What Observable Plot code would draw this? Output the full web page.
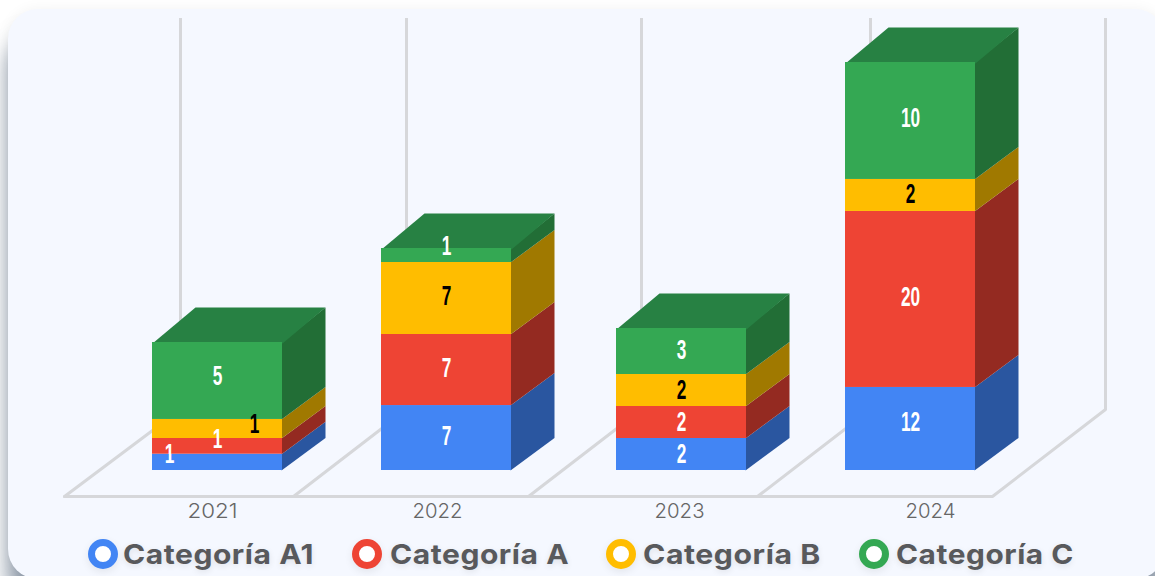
<!DOCTYPE html>
<html lang="es">
<head>
<meta charset="utf-8">
<script src="https://cdn.jsdelivr.net/npm/d3@7"></script>
<script src="https://cdn.jsdelivr.net/npm/@observablehq/plot@0.6"></script>
<style>
  html,body{margin:0;padding:0;width:1155px;height:576px;overflow:hidden;background:#fff;}
  #card{position:absolute;left:8px;top:9px;width:1157px;height:570px;border-radius:30px;background:#f5f8ff;
        box-shadow:0 28px 22px rgba(60,80,105,.6),0 0 14px rgba(0,0,0,.05);}
  #chart{position:absolute;left:0;top:0;}
  #legend{position:absolute;left:0;top:536px;width:1155px;height:36px;}
  .item{position:absolute;top:0;height:36px;display:flex;align-items:center;}
  .ring{box-sizing:border-box;width:30px;height:30px;border-radius:50%;border:7px solid;background:#fff;margin-right:var(--gap);
        box-shadow:0 3px 8px rgba(0,0,0,.08);flex:none;}
  .name{font:700 27.5px Inter,"Open Sans",sans-serif;letter-spacing:.5px;color:#58595c;white-space:nowrap;text-shadow:0 2px 6px rgba(0,0,0,.1);
        display:inline-block;transform-origin:0 50%;}
</style>
</head>
<body>
<div id="card"></div>
<div id="chart"></div>
<div id="legend"></div>
<script>
// ---- chart values ----
const years = [2021, 2022, 2023, 2024];
const categories = ["Categoría A1", "Categoría A", "Categoría B", "Categoría C"];

// drawn segment heights, in the chart's value units
const heightA1 = [1.02, 4.06, 2, 5.19];
const heightA  = [0.98, 4.44, 2, 11];
const heightB  = [1.19, 4.5, 2, 2];
const heightC  = [4.81, 0.875, 2.875, 7.31];
const heights = [heightA1, heightA, heightB, heightC];

// printed labels
const labelA1 = [1, 7, 2, 12];
const labelA  = [1, 7, 2, 20];
const labelB  = [1, 7, 2, 2];
const labelC  = [5, 1, 3, 10];
const labels = [labelA1, labelA, labelB, labelC];

// ---- styles ----
const frontColors = ["#4285f4", "#ee4434", "#ffbd00", "#34a853"];
const sideColors  = ["#2a56a0", "#942a21", "#a07900", "#226e36"];
const topColor = "#278143";
const labelColors = ["#fff", "#fff", "#000", "#fff"];
const gridColor = "#d6d7da";

// ---- layout, in pixels relative to a bar's scale position ----
const barW = 130, depthX = 43, sideRise = -32.5, topRise = -35, tuck = 1;
const floorX = -88, floorY = 26;           // front floor edge, from the bar's corner
const backX = 25, backY = -61;             // back floor edge, from the bar's corner
const firstBackNudge = 3;
const yearLabelShift = [60, 56, 63, 85];
const labelLift = [[8, 1.5, 0, 6.5], [7, 1.5, 0, 2], [4.5, 2, 0, 1], [4.5, 9, 1, 2.5]];
const labelSide = [[-48, 0, 0, 0], [0, 0, 0, 0], [37, 0, 0, 0], [0, 0, 0, 0]];

// ---- derived tables for the marks ----
const slots = [...years, 2025];
const segments = [];
categories.forEach((category, c) => years.forEach((year, i) => {
  const lo = d3.sum(heights.slice(0, c), h => h[i]);
  segments.push({year, category, c, i, lo, hi: lo + heights[c][i], label: labels[c][i]});
}));
const sidePts = segments.flatMap((s, n) => {
  const color = sideColors[s.c];
  const hiRise = s.c === categories.length - 1 ? topRise : sideRise;
  return [
    {id: n, year: s.year, v: s.lo, ox: barW - tuck, oy: 0, color},
    {id: n, year: s.year, v: s.lo, ox: barW + depthX, oy: sideRise, color},
    {id: n, year: s.year, v: s.hi, ox: barW + depthX, oy: hiRise, color},
    {id: n, year: s.year, v: s.hi, ox: barW - tuck, oy: 0, color}
  ];
});
const topPts = years.flatMap((year, i) => {
  const v = d3.sum(heights, h => h[i]);
  return [
    {id: i, year, v, ox: 0, oy: tuck},
    {id: i, year, v, ox: depthX, oy: topRise},
    {id: i, year, v, ox: barW + depthX, oy: topRise},
    {id: i, year, v, ox: barW, oy: tuck}
  ];
});
const last = slots[slots.length - 1];
const floorPts = [
  {id: "front", year: slots[0], v: 0, ox: floorX, oy: floorY},
  {id: "front", year: last, v: 0, ox: floorX, oy: floorY},
  {id: "front", year: last, v: 0, ox: backX, oy: backY},
  ...slots.slice(0, -1).flatMap((year, i) => [
    {id: year, year, v: 0, ox: floorX, oy: floorY},
    {id: year, year, v: 0, ox: backX + (i ? 0 : firstBackNudge), oy: backY}
  ])
];
const labelPts = segments.map(s => ({
  ...s, v: (s.lo + s.hi) / 2,
  ox: barW / 2 + labelSide[s.c][s.i], oy: -labelLift[s.c][s.i]
}));

// moves each point by its own pixel offset after the scales have been applied
const shifted = data => (index, scales, values, dimensions, context, next) =>
  next(index, scales, {
    ...values,
    x: Float64Array.from(values.x, (x, i) => x + data[i].ox),
    y: Float64Array.from(values.y, (y, i) => y + data[i].oy)
  }, dimensions, context);

const plot = Plot.plot({
  width: 1155, height: 530,
  margin: 0,
  style: {background: "transparent"},
  x: {type: "linear", domain: slots, range: [152, 381, 616, 845, 1080], axis: null},
  y: {type: "linear", domain: [0, 28.25], range: [470, 18], axis: null},
  color: {type: "identity"},
  marks: [
    // back wall and floor
    ...slots.map((year, i) => Plot.ruleX([year], {
      x: d => d, y1: -backY / 16, y2: 28.25, stroke: gridColor, strokeWidth: 3,
      dx: backX + (i ? 0 : firstBackNudge)
    })),
    Plot.line(floorPts, {
      x: "year", y: "v", z: "id", stroke: gridColor, strokeWidth: 3,
      strokeLinejoin: "miter", render: shifted(floorPts)
    }),
    // bars
    Plot.line(sidePts, {
      x: "year", y: "v", z: "id", fill: "color", stroke: "none", render: shifted(sidePts)
    }),
    Plot.line(topPts, {
      x: "year", y: "v", z: "id", fill: topColor, stroke: "none", render: shifted(topPts)
    }),
    Plot.rect(segments, {
      x1: "year", x2: "year", y1: "lo", y2: "hi",
      fill: d => frontColors[d.c], insetRight: -barW
    }),
    // value labels
    Plot.text(labelPts, {
      x: "year", y: "v", text: d => String(d.label), fill: d => labelColors[d.c],
      fontSize: 28, fontWeight: 700, fontFamily: "'Liberation Sans Narrow','Liberation Sans',sans-serif",
      className: "val", render: shifted(labelPts)
    }),
    // year labels
    ...years.map((year, i) => Plot.text([year], {
      x: d => d, y: () => 0, text: d => String(d), dx: yearLabelShift[i], dy: 41,
      fill: "#666", fontSize: 20, fontWeight: 300, fontFamily: "Inter,'Open Sans',sans-serif", className: "yr"
    }))
  ]
});
document.getElementById("chart").append(plot);

// condense the digits to the reference's narrow numerals
plot.querySelectorAll(".val text").forEach(t => {
  t.setAttribute("textLength", t.textContent.length * 9.6);
  t.setAttribute("lengthAdjust", "spacingAndGlyphs");
});
plot.querySelectorAll(".yr text").forEach(t => {
  t.setAttribute("textLength", 50);
  t.setAttribute("lengthAdjust", "spacingAndGlyphs");
});

// legend
const legendLeft = [88, 352, 606, 859];
const legendGap = [5, 8, 7, 7];
const legendWidth = [191, 179, 178, 178];
const legend = document.getElementById("legend");
categories.forEach((name, c) => {
  const item = document.createElement("div");
  item.className = "item";
  item.style.left = legendLeft[c] + "px";
  item.style.setProperty("--gap", legendGap[c] + "px");
  const ring = document.createElement("span");
  ring.className = "ring";
  ring.style.borderColor = frontColors[c];
  const label = document.createElement("span");
  label.className = "name";
  label.textContent = name;
  item.append(ring, label);
  legend.append(item);
  label.style.transform = `scaleX(${legendWidth[c] / label.offsetWidth})`;
});
</script>
</body>
</html>
